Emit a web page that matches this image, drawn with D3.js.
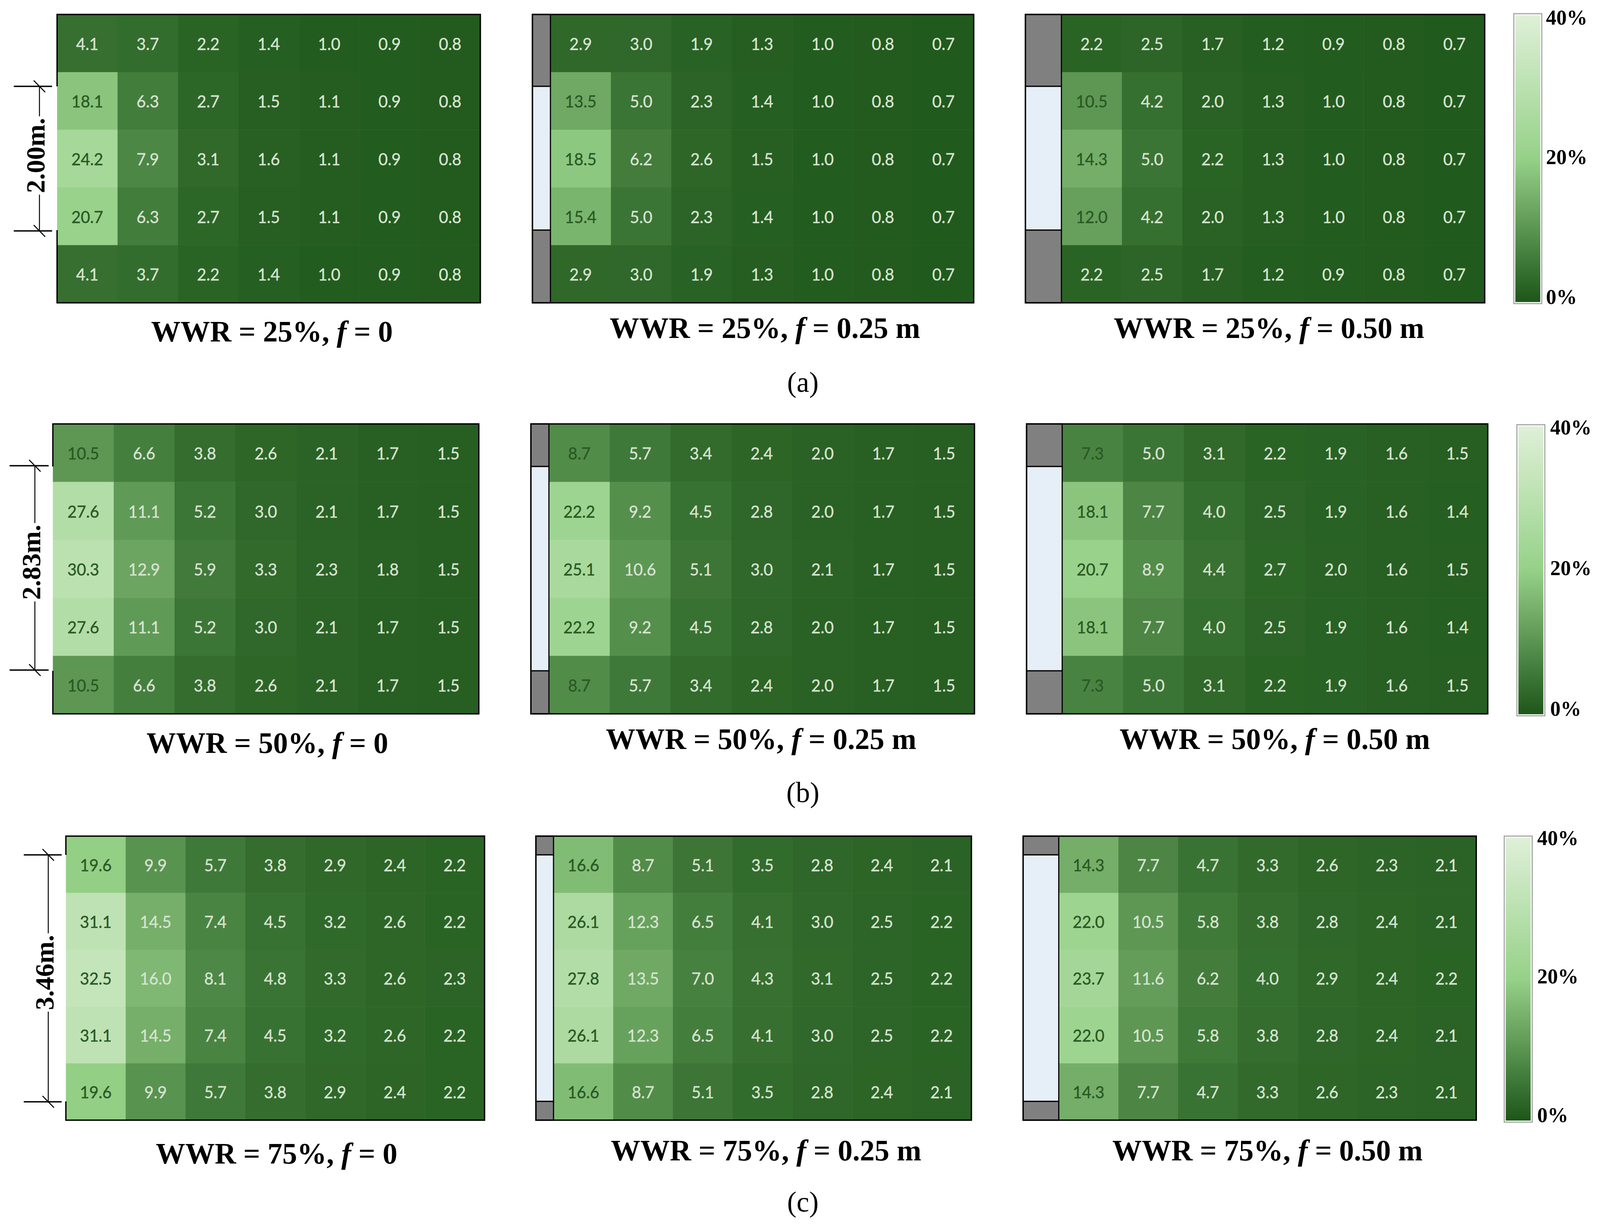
<!DOCTYPE html>
<html>
<head>
<meta charset="utf-8">
<script src="https://cdnjs.cloudflare.com/ajax/libs/d3/7.8.5/d3.min.js"></script>
<style>
html,body{margin:0;padding:0;background:#fff;overflow:hidden;}
svg{display:block;}
</style>
</head>
<body>
<div id="chart"></div>
<script>
/* data */
var columns = [0,1,2,3,4,5,6];
var rows = [0,1,2,3,4];
var legendTicks = [0,20,40];
var captions = ["(a)","(b)","(c)"];
var dimLabels = ["2.00m.","2.83m.","3.46m."];

var wwr25f000 = [[4.1,3.7,2.2,1.4,1.0,0.9,0.8],[18.1,6.3,2.7,1.5,1.1,0.9,0.8],[24.2,7.9,3.1,1.6,1.1,0.9,0.8],[20.7,6.3,2.7,1.5,1.1,0.9,0.8],[4.1,3.7,2.2,1.4,1.0,0.9,0.8]];
var wwr25f025 = [[2.9,3.0,1.9,1.3,1.0,0.8,0.7],[13.5,5.0,2.3,1.4,1.0,0.8,0.7],[18.5,6.2,2.6,1.5,1.0,0.8,0.7],[15.4,5.0,2.3,1.4,1.0,0.8,0.7],[2.9,3.0,1.9,1.3,1.0,0.8,0.7]];
var wwr25f050 = [[2.2,2.5,1.7,1.2,0.9,0.8,0.7],[10.5,4.2,2.0,1.3,1.0,0.8,0.7],[14.3,5.0,2.2,1.3,1.0,0.8,0.7],[12.0,4.2,2.0,1.3,1.0,0.8,0.7],[2.2,2.5,1.7,1.2,0.9,0.8,0.7]];
var wwr50f000 = [[10.5,6.6,3.8,2.6,2.1,1.7,1.5],[27.6,11.1,5.2,3.0,2.1,1.7,1.5],[30.3,12.9,5.9,3.3,2.3,1.8,1.5],[27.6,11.1,5.2,3.0,2.1,1.7,1.5],[10.5,6.6,3.8,2.6,2.1,1.7,1.5]];
var wwr50f025 = [[8.7,5.7,3.4,2.4,2.0,1.7,1.5],[22.2,9.2,4.5,2.8,2.0,1.7,1.5],[25.1,10.6,5.1,3.0,2.1,1.7,1.5],[22.2,9.2,4.5,2.8,2.0,1.7,1.5],[8.7,5.7,3.4,2.4,2.0,1.7,1.5]];
var wwr50f050 = [[7.3,5.0,3.1,2.2,1.9,1.6,1.5],[18.1,7.7,4.0,2.5,1.9,1.6,1.4],[20.7,8.9,4.4,2.7,2.0,1.6,1.5],[18.1,7.7,4.0,2.5,1.9,1.6,1.4],[7.3,5.0,3.1,2.2,1.9,1.6,1.5]];
var wwr75f000 = [[19.6,9.9,5.7,3.8,2.9,2.4,2.2],[31.1,14.5,7.4,4.5,3.2,2.6,2.2],[32.5,16.0,8.1,4.8,3.3,2.6,2.3],[31.1,14.5,7.4,4.5,3.2,2.6,2.2],[19.6,9.9,5.7,3.8,2.9,2.4,2.2]];
var wwr75f025 = [[16.6,8.7,5.1,3.5,2.8,2.4,2.1],[26.1,12.3,6.5,4.1,3.0,2.5,2.2],[27.8,13.5,7.0,4.3,3.1,2.5,2.2],[26.1,12.3,6.5,4.1,3.0,2.5,2.2],[16.6,8.7,5.1,3.5,2.8,2.4,2.1]];
var wwr75f050 = [[14.3,7.7,4.7,3.3,2.6,2.3,2.1],[22.0,10.5,5.8,3.8,2.8,2.4,2.1],[23.7,11.6,6.2,4.0,2.9,2.4,2.2],[22.0,10.5,5.8,3.8,2.8,2.4,2.1],[14.3,7.7,4.7,3.3,2.6,2.3,2.1]];

/* layout, in reference pixels */
var width = 4177, height = 3143;
var bandTop = [37,1085,2140], bandBottom = [775,1827,2867];
var windowTop = [221,1194,2188], windowBottom = [589,1717,2819];
var captionY = [1003,2053,3101];
var barBox = [{x:3952,top:35,bottom:777,lx:4036,l0:778,l40:63},
              {x:3960,top:1087,bottom:1832,lx:4047,l0:1832,l40:1112},
              {x:3927,top:2140,bottom:2872,lx:4013,l0:2872,l40:2163}];
var dims = [{x:103,y1:221,y2:591,t1:36,t2:136,tx:116,ty:398},
            {x:91,y1:1192,y2:1715,t1:25,t2:127,tx:105,ty:1439},
            {x:126,y1:2188,y2:2820,t1:62,t2:161,tx:140,ty:2489}];
var panels = [
	{band:0,x0:149,wall:149,x1:1254,values:wwr25f000,wwr:"25%",f:"0",tx:710,ty:874},
	{band:0,x0:1390,wall:1437,x1:2542,values:wwr25f025,wwr:"25%",f:"0.25 m",tx:1997,ty:865},
	{band:0,x0:2677,wall:2771,x1:3876,values:wwr25f050,wwr:"25%",f:"0.50 m",tx:3313,ty:865},
	{band:1,x0:138,wall:138,x1:1250,values:wwr50f000,wwr:"50%",f:"0",tx:698,ty:1927},
	{band:1,x0:1386,wall:1433,x1:2544,values:wwr50f025,wwr:"50%",f:"0.25 m",tx:1987,ty:1917},
	{band:1,x0:2680,wall:2773,x1:3884,values:wwr50f050,wwr:"50%",f:"0.50 m",tx:3328,ty:1917},
	{band:2,x0:172,wall:172,x1:1265,values:wwr75f000,wwr:"75%",f:"0",tx:722,ty:2978},
	{band:2,x0:1399,wall:1445,x1:2536,values:wwr75f025,wwr:"75%",f:"0.25 m",tx:2000,ty:2970},
	{band:2,x0:2671,wall:2764,x1:3854,values:wwr75f050,wwr:"75%",f:"0.50 m",tx:3309,ty:2970}
];

var serif = "'Liberation Serif','Times New Roman',serif";
var color = d3.scaleLinear().domain([0,20,40]).range(["#1d5619","#96d188","#dff0d8"]);

/* the window can come out smaller than asked, so fit the drawing to it */
var svg = d3.select("#chart").append("svg")
	.attr("width",window.innerWidth).attr("height",window.innerHeight)
	.attr("viewBox","0 0 "+width+" "+height)
	.attr("preserveAspectRatio","none");
svg.append("rect").attr("width",width).attr("height",height).attr("fill","#fff");

var defs = svg.append("defs");
var grad = defs.append("linearGradient").attr("id","bar-grad")
	.attr("x1",0).attr("y1",1).attr("x2",0).attr("y2",0);
d3.range(0,41,5).forEach(function(v){
	grad.append("stop").attr("offset",(v/40*100)+"%").attr("stop-color",color(v));
});

panels.forEach(function(p){
	var top = bandTop[p.band], bottom = bandBottom[p.band];
	var wt = windowTop[p.band], wb = windowBottom[p.band];
	var g = svg.append("g");

	var x = d3.scaleBand().domain(columns).range([p.wall,p.x1]);
	var y = d3.scaleBand().domain(rows).range([top,bottom]);

	var cells = [];
	p.values.forEach(function(row,r){
		row.forEach(function(v,c){ cells.push({r:r,c:c,v:v}); });
	});

	g.selectAll("rect.cell").data(cells).enter().append("rect")
		.attr("class","cell")
		.attr("x",function(d){return x(d.c);})
		.attr("y",function(d){return y(d.r);})
		.attr("width",x.bandwidth()+0.5)
		.attr("height",y.bandwidth()+0.5)
		.attr("fill",function(d){return color(d.v);});

	g.selectAll("text.val").data(cells).enter().append("text")
		.attr("class","val")
		.attr("x",function(d){return x(d.c)+x.bandwidth()/2;})
		.attr("y",function(d){return y(d.r)+y.bandwidth()/2+17;})
		.attr("text-anchor","middle")
		.attr("font-family","Lato,sans-serif")
		.attr("font-size",42)
		.attr("stroke-width",0.6)
		.attr("fill",function(d){ return (d.c==0 && d.v>=7) ? "#2a5a25" : "#d6e2d0"; })
		.attr("stroke",function(d){ return (d.c==0 && d.v>=7) ? "#2a5a25" : "#d6e2d0"; })
		.text(function(d){return d.v.toFixed(1);});

	var ln = "#000";
	if(p.wall>p.x0){
		/* wall and window column left of the room */
		[[top,wt,"#808080"],[wt,wb,"#e6eef8"],[wb,bottom,"#808080"]].forEach(function(s){
			g.append("rect").attr("x",p.x0).attr("y",s[0])
				.attr("width",p.wall-p.x0).attr("height",s[1]-s[0])
				.attr("fill",s[2]).attr("stroke",ln).attr("stroke-width",3);
		});
		g.append("path").attr("fill","none").attr("stroke",ln).attr("stroke-width",3.5)
			.attr("d","M"+p.x0+","+top+"H"+p.x1+"V"+bottom+"H"+p.x0+"Z");
	} else {
		/* no wall: the outline is open where the window is */
		g.append("path").attr("fill","none").attr("stroke",ln).attr("stroke-width",3.5)
			.attr("d","M"+p.x0+","+wt+"V"+top+"H"+p.x1+"V"+bottom+"H"+p.x0+"V"+wb);
	}

	var t = svg.append("text")
		.attr("x",p.tx).attr("y",p.ty)
		.attr("text-anchor","middle")
		.attr("font-family",serif)
		.attr("font-weight","bold")
		.attr("font-size",77)
		.attr("fill","#000");
	t.append("tspan").text("WWR = "+p.wwr+", ");
	t.append("tspan").attr("font-style","italic").text("f");
	t.append("tspan").text(" = "+p.f);
});

/* window height dimension on the left */
dims.forEach(function(d,i){
	var g = svg.append("g").attr("stroke","#000").attr("fill","none");
	g.append("line").attr("x1",d.x).attr("x2",d.x).attr("y1",d.y1).attr("y2",d.y2).attr("stroke-width",2.5);
	[d.y1,d.y2].forEach(function(yy){
		g.append("line").attr("x1",d.t1).attr("x2",d.t2).attr("y1",yy).attr("y2",yy).attr("stroke-width",3.5);
		g.append("line").attr("x1",d.x-15).attr("x2",d.x+15).attr("y1",yy-15).attr("y2",yy+15).attr("stroke-width",2.5);
	});
	/* white gap in the dimension line behind the label */
	var gap = svg.append("rect").attr("x",d.x-3).attr("width",6).attr("fill","#fff");
	var txt = svg.append("text")
		.attr("transform","translate("+d.tx+","+d.ty+") rotate(-90)")
		.attr("text-anchor","middle")
		.attr("font-family",serif)
		.attr("font-weight","bold")
		.attr("font-size",68)
		.attr("fill","#000")
		.text(dimLabels[i]);
	var w = txt.node().getComputedTextLength();
	gap.attr("y",d.ty-w/2-4).attr("height",w+8);
});

/* colour bars */
barBox.forEach(function(b){
	var bw = 73;
	svg.append("rect").attr("x",b.x).attr("y",b.top).attr("width",bw).attr("height",b.bottom-b.top)
		.attr("fill","#fff").attr("stroke","#a6a6a6").attr("stroke-width",3);
	svg.append("rect").attr("x",b.x+4).attr("y",b.top+4).attr("width",bw-8).attr("height",b.bottom-b.top-8)
		.attr("fill","url(#bar-grad)");
	var ly = d3.scaleLinear().domain([0,40]).range([b.l0,b.l40]);
	svg.selectAll(null).data(legendTicks).enter().append("text")
		.attr("x",b.lx)
		.attr("y",function(d){return ly(d);})
		.attr("font-family",serif)
		.attr("font-weight","bold")
		.attr("font-size",54)
		.attr("fill","#000")
		.text(function(d){return d+"%";});
});

captions.forEach(function(c,i){
	svg.append("text").attr("x",2096).attr("y",captionY[i])
		.attr("text-anchor","middle")
		.attr("font-family",serif)
		.attr("font-size",74)
		.attr("fill","#000")
		.text(c);
});
</script>
</body>
</html>
